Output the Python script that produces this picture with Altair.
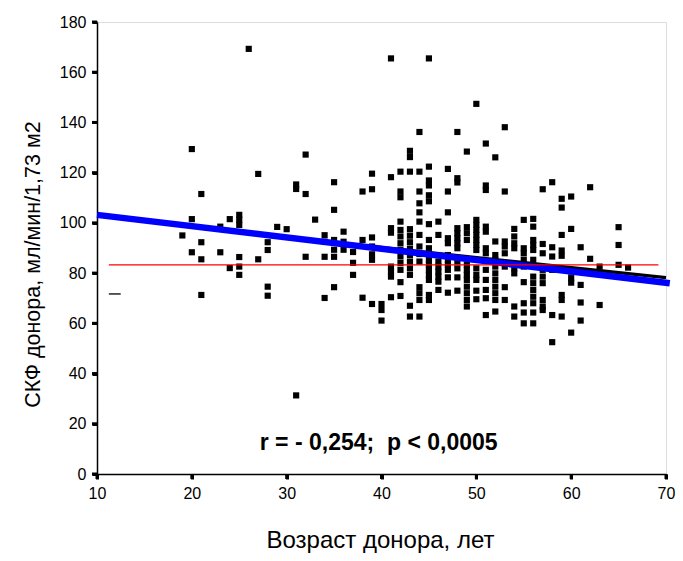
import altair as alt
import pandas as pd

FONT = "Liberation Sans"

# ---- scatter data: donor age columns and GFR values ----
age_cols = [19, 20, 21, 23, 24, 25, 26, 27, 28, 29, 30, 31, 32, 33, 34, 35, 36, 37, 38, 39, 40,
            41, 42, 43, 44, 45, 46, 47, 48, 49, 50, 51, 52, 53, 54, 55, 56, 57, 58, 59, 60,
            61, 62, 63, 65, 66]
gfr_cols = [
    [95.0],
    [129.4, 101.5, 88.3],
    [111.5, 92.3, 85.5, 71.3],
    [98.5, 88.3],
    [101.5, 82.0],
    [103.2, 101.3, 99.2, 86.4, 82.6, 79.3],
    [169.3],
    [119.5, 85.5],
    [92.3, 89.2, 74.6, 71.0],
    [98.4],
    [97.5],
    [115.3, 113.5, 31.3],
    [127.2, 111.5, 86.5],
    [101.3],
    [95.1, 92.5, 86.5, 70.1],
    [116.2, 105.2, 93.2, 89.3, 86.5, 74.4],
    [96.5, 92.5, 89.3],
    [88.4, 84.1, 79.3],
    [112.5, 93.2, 70.2],
    [119.6, 113.4, 94.2, 90.6, 87.5, 85.3, 67.7],
    [67.7, 65.3, 61.1],
    [165.5, 118.2, 97.9, 96.1, 82.6, 80.6, 78.6, 70.4],
    [120.4, 112.5, 110.2, 100.5, 97.2, 94.6, 91.9, 89.3, 86.6, 84.0, 81.3, 76.4, 70.9],
    [128.7, 126.2, 120.4, 97.5, 94.9, 92.3, 89.7, 87.1, 84.5, 81.9, 79.3, 67.0, 62.7],
    [136.2, 120.4, 112.5, 107.8, 104.2, 100.5, 95.2, 90.6, 87.6, 84.6, 74.4, 72.0, 69.3, 62.7],
    [165.5, 122.4, 116.9, 114.9, 111.0, 108.6, 99.5, 93.2, 89.9, 87.9, 85.3, 83.3, 81.3, 79.3, 77.3, 71.3, 69.3],
    [100.5, 95.2, 84.6, 82.6, 80.6, 78.6, 76.6, 73.3],
    [121.5, 112.5, 104.2, 93.9, 91.9, 87.2, 85.3, 83.3, 81.3, 78.3, 72.2],
    [136.2, 117.8, 116.1, 97.9, 95.9, 93.9, 91.9, 89.9, 84.6, 81.9, 78.3, 73.0],
    [128.4, 98.3, 95.9, 93.2, 83.3, 81.3, 79.3, 77.3, 74.6, 72.0, 69.3, 66.7],
    [147.4, 101.2, 99.2, 97.2, 95.2, 93.2, 91.2, 89.2, 81.9, 79.3, 77.3, 73.0, 69.6],
    [131.6, 114.9, 113.1, 98.5, 96.5, 89.9, 87.9, 81.3, 77.3, 73.3, 70.0, 63.3],
    [126.1, 92.6, 87.2, 85.3, 82.6, 79.9, 77.3, 74.6, 72.0, 69.3, 64.7],
    [138.1, 112.5, 92.6, 90.6, 87.9, 82.6, 74.4, 69.3],
    [97.6, 94.6, 91.9, 89.9, 81.9, 79.9, 66.7, 62.7],
    [101.2, 89.9, 87.9, 85.3, 82.6, 76.4, 68.0, 64.3, 60.0],
    [101.6, 98.5, 93.2, 91.2, 89.2, 85.3, 78.6, 76.0, 73.3, 70.6, 68.0, 64.3, 60.0],
    [113.4, 91.6, 87.9, 81.3, 78.6, 76.0, 69.3, 66.7, 65.3],
    [116.2, 90.3, 86.6, 81.3, 63.3, 52.5],
    [109.6, 106.1, 95.2, 89.0, 86.9, 71.3, 69.3, 62.7],
    [110.5, 97.6, 80.6, 78.0, 76.2, 56.3],
    [90.3, 75.3, 68.3, 61.1],
    [114.2, 85.7],
    [82.6, 67.3],
    [98.3, 91.2, 83.3],
    [82.2],
]

# ---- reference lines ----
blue_x = [10.0, 70.4]
blue_y = [103.2, 76.0]
black_x = [30.0, 70.0]
black_y = [94.2, 78.2]
red_x = [11.25, 69.2]
red_y = [83.3, 83.3]
dash_x = [11.25, 12.5]
dash_y = [71.7, 71.7]

annotation_text = ["r = - 0,254;\u00a0\u00a0p < 0,0005"]
annotation_x = [39.7]
annotation_y = [12.3]

x_ticks = [10, 20, 30, 40, 50, 60, 70]
y_ticks = [0, 20, 40, 60, 80, 100, 120, 140, 160, 180]
x_title = "Возраст донора, лет"
y_title = "СКФ донора, мл/мин/1,73 м2"

W, H = 569, 452

rows = []
for a, vals in zip(age_cols, gfr_cols):
    for v in vals:
        rows.append({"age": a, "gfr": v})
pts = pd.DataFrame(rows)

xs = alt.Scale(domain=[10, 70], nice=False, zero=False)
ys = alt.Scale(domain=[0, 180], nice=False, zero=True)

x_axis = alt.Axis(values=x_ticks, title=x_title, grid=False, ticks=True, tickSize=5, tickWidth=3,
                  tickColor="black", tickOpacity=1, domainColor="black", domainWidth=1.5,
                  labelFlush=False,
                  labelFont=FONT, labelFontSize=16, labelColor="black", labelPadding=6,
                  titleFont=FONT, titleFontSize=24, titleFontWeight="normal", titleColor="black",
                  titleX=283, titleY=73, titleBaseline="alphabetic", titleAnchor="middle")
y_axis = alt.Axis(values=y_ticks, title=y_title, grid=False, ticks=True, tickSize=5, tickWidth=3,
                  tickColor="black", tickOpacity=1, domainColor="black", domainWidth=1.5,
                  labelFlush=False,
                  labelFont=FONT, labelFontSize=16, labelColor="black", labelPadding=6,
                  titleFont=FONT, titleFontSize=21.5, titleFontWeight="normal", titleColor="black",
                  titleX=-58, titleY=242, titleBaseline="alphabetic", titleAngle=270)

points = alt.Chart(pts).mark_point(shape="square", filled=True, size=38, color="black",
                                   opacity=1).encode(
    x=alt.X("age:Q", scale=xs, axis=x_axis),
    y=alt.Y("gfr:Q", scale=ys, axis=y_axis),
)

# explicit tick marks (outward, thick)
xt = alt.Chart(pd.DataFrame({"age": x_ticks})).mark_rule(color="black", strokeWidth=3, clip=False).encode(
    x=alt.X("age:Q", scale=xs), y=alt.value(H), y2=alt.value(H + 5))
yt = alt.Chart(pd.DataFrame({"gfr": y_ticks})).mark_rule(color="black", strokeWidth=3, clip=False).encode(
    y=alt.Y("gfr:Q", scale=ys), x=alt.value(-5), x2=alt.value(0))

def line(xv, yv, color, width):
    df = pd.DataFrame({"age": xv, "gfr": yv})
    return alt.Chart(df).mark_line(color=color, strokeWidth=width, clip=False).encode(
        x=alt.X("age:Q", scale=xs), y=alt.Y("gfr:Q", scale=ys))

black_line = line(black_x, black_y, "black", 3.2)
blue_line = line(blue_x, blue_y, "#0000ff", 6.5)
red_line = line(red_x, red_y, "#ff0000", 1.3)
dash_line = line(dash_x, dash_y, "black", 1.3)

ann = alt.Chart(pd.DataFrame({"age": annotation_x, "gfr": annotation_y, "t": annotation_text})).mark_text(
    font=FONT, fontSize=23, fontWeight="bold", color="black", align="center", baseline="middle"
).encode(x=alt.X("age:Q", scale=xs), y=alt.Y("gfr:Q", scale=ys), text="t:N")

chart = alt.layer(points, xt, yt, black_line, blue_line, red_line, dash_line, ann).properties(
    width=W, height=H,
    autosize=alt.AutoSizeParams(type="none"),
    padding={"left": 89, "top": 14, "right": 9, "bottom": 79},
).configure_view(stroke="black", strokeWidth=1.5).configure(background="white")

chart.save("out.html", embed_options={"renderer": "svg", "actions": False})
